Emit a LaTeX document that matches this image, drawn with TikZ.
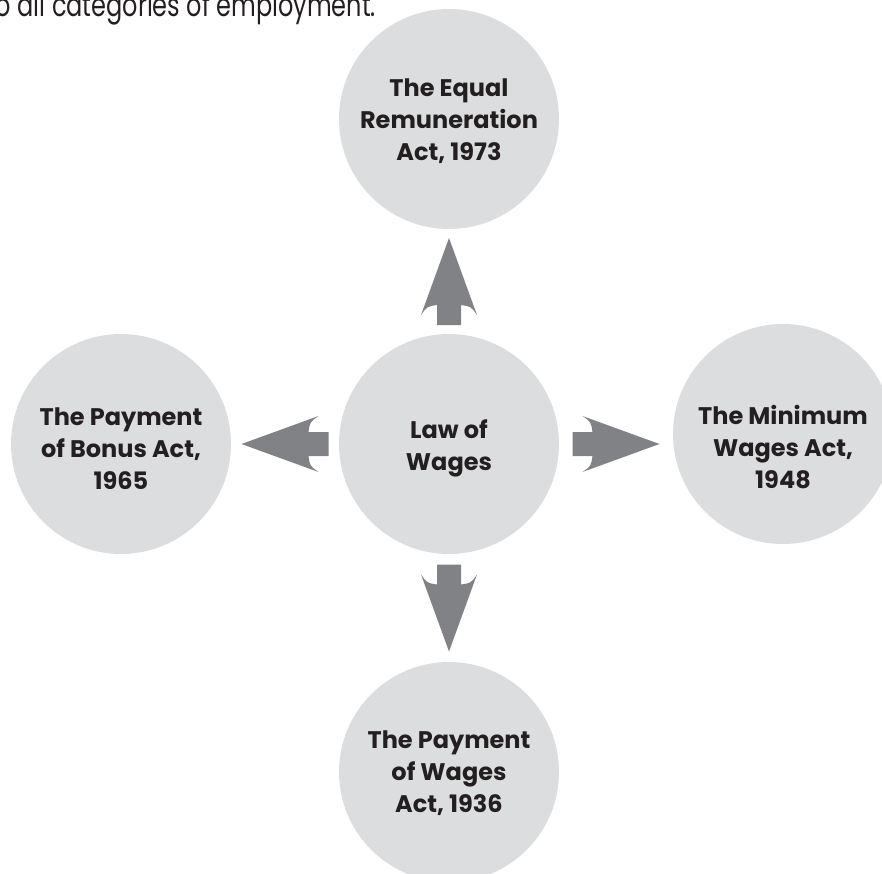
\documentclass[tikz,border=0pt]{standalone}
\usepackage{fontspec}
\setmainfont{Poppins}
\usetikzlibrary{calc}
\definecolor{circfill}{HTML}{DCDDDE}
\definecolor{arrowgray}{HTML}{808285}
\definecolor{txt}{HTML}{231F20}
\newcommand{\bubtext}[2]{\raisebox{#1}[0pt][0pt]{\begin{tabular}{@{}c@{}}#2\end{tabular}}}
\tikzset{
  bubble/.style={circle, fill=circfill, minimum size=220pt, inner sep=0pt,
    text=txt, font=\bfseries\fontsize{24}{32}\selectfont, align=center},
  fatarrow/.pic={
    \fill[arrowgray] (43.5,0) -- (-33.5,28) .. controls (-25,22) .. (-23.5,12)
      -- (-43.5,12) -- (-43.5,-12) -- (-23.5,-12) .. controls (-25,-22) .. (-33.5,-28) -- cycle;
  },
  toptext/.style={text=txt, inner sep=0pt}
}
\begin{document}
\begin{tikzpicture}[x=1pt,y=-1pt]
\useasboundingbox (0,0) rectangle (882,873);
\clip (0,0) rectangle (882,873);
\node[toptext, anchor=base east] (head) at (376,16) {\scalebox{0.75}[1]{\fontsize{32}{34}\selectfont o all categories of employment.}};
\node[bubble] (c) at (449,444) {\bubtext{-10pt}{Law of\\Wages}};
\node[bubble] (t) at (449,119) {\bubtext{-9pt}{The Equal\\Remuneration\\Act, 1973}};
\node[bubble] (l) at (121,444) {\bubtext{-13pt}{The Payment\\of Bonus Act,\\1965}};
\node[bubble] (r) at (783,434) {\bubtext{-22pt}{The Minimum\\Wages Act,\\1948}};
\node[bubble] (b) at (449,772) {\bubtext{-8pt}{The Payment\\of Wages\\Act, 1936}};
\coordinate (rm) at ($(c.east)!0.5!(r.west)$);
\pic[rotate=90] at ($(c.north)!0.5!(t.south)$) {fatarrow};
\pic[rotate=180] at ($(c.west)!0.5!(l.east)$) {fatarrow};
\pic at (rm |- c) {fatarrow};
\pic[rotate=-90] at ($(c.south)!0.5!(b.north)$) {fatarrow};
\end{tikzpicture}
\end{document}
